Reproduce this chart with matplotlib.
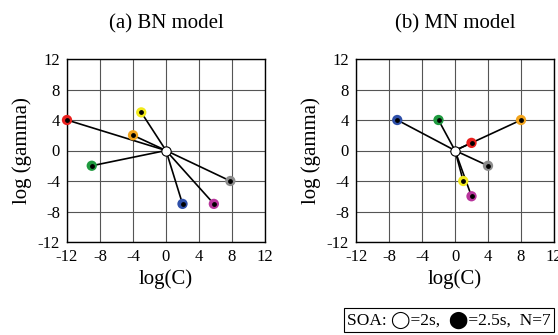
import numpy as np
import matplotlib.pyplot as plt

plt.rcParams['font.family'] = ['Liberation Serif', 'DejaVu Sans']
plt.rcParams['axes.unicode_minus'] = False

# (a) BN model
bn_c = [-12, -3, -4, -9, 7.8, 2, 5.8]
bn_g = [4, 5, 2, -2, -4, -7, -7]
bn_col = ['#e8201e', '#f2ea1c', '#f2a41c', '#1f9a3f', '#8c8c8c', '#2e4fa8', '#b8359c']

# (b) MN model
mn_c = [-7, -2, 8, 2, 4, 1, 2]
mn_g = [4, 4, 4, 1, -2, -4, -6]
mn_col = ['#2e4fa8', '#1f9a3f', '#f2a41c', '#e8201e', '#8c8c8c', '#f2ea1c', '#b8359c']

ticks = [-12, -8, -4, 0, 4, 8, 12]

fig = plt.figure(figsize=(5.58, 3.35), dpi=100)
W, H = 558, 335
ax1 = fig.add_axes([67 / W, 1 - 242 / H, 198 / W, 183 / H])
ax2 = fig.add_axes([356 / W, 1 - 242 / H, 198 / W, 183 / H])

for ax, cs, gs, cols, title in [(ax1, bn_c, bn_g, bn_col, '(a) BN model'),
                                (ax2, mn_c, mn_g, mn_col, '(b) MN model')]:
    ax.set_xlim(-12, 12)
    ax.set_ylim(-12, 12)
    ax.set_xticks(ticks)
    ax.set_yticks(ticks)
    ax.grid(True, color='#555555', lw=0.8)
    ax.tick_params(length=0, labelsize=12, pad=5)
    for s in ax.spines.values():
        s.set_linewidth(1.0)
    for c, g, col in zip(cs, gs, cols):
        ax.plot([0, c], [0, g], color='black', lw=1.2, zorder=3)
        ax.scatter(c, g, s=55, color=col, edgecolor='none', zorder=4, clip_on=False)
        ax.scatter(c, g, s=6, color='black', zorder=5, clip_on=False)
    ax.scatter(0, 0, s=45, color='white', edgecolor='black', lw=0.8, zorder=6)
    ax.set_xlabel('log(C)', fontsize=15, labelpad=3)
    ax.set_ylabel('log (gamma)', fontsize=15, labelpad=4)
    ax.set_title(title, fontsize=15, pad=22)

fig.text(449 / W, 1 - 320 / H, 'SOA: \u25ef=2s,  \u2b24=2.5s,  N=7',
         ha='center', va='center', fontsize=12.5,
         bbox=dict(boxstyle='square,pad=0.2', fc='white', ec='black', lw=0.8))

fig.savefig('out.png', dpi=100)
